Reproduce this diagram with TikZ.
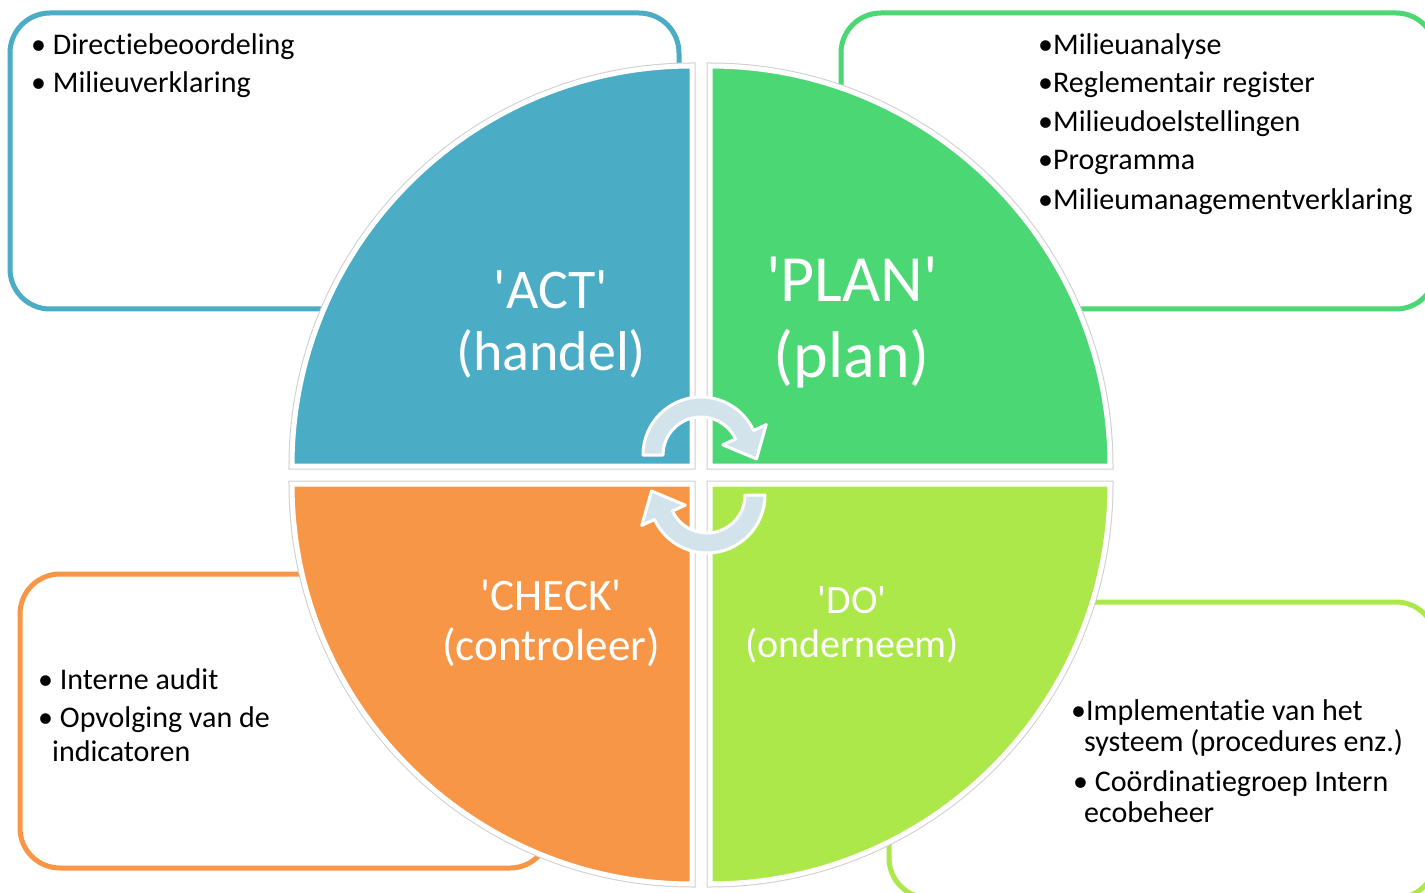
\documentclass[tikz,border=0pt]{standalone}
\usepackage{fontspec}
\setmainfont[Ligatures=NoCommon]{Carlito}
\definecolor{actc}{HTML}{4BACC6}
\definecolor{planc}{HTML}{4AD774}
\definecolor{checkc}{HTML}{F79646}
\definecolor{doc}{HTML}{ADE84B}
\definecolor{arrc}{HTML}{D3E3EC}
\definecolor{rimc}{HTML}{CFCFCF}
\newcommand{\sq}{\textquotesingle}
\begin{document}
\begin{tikzpicture}[x=1pt,y=1pt,
  box/.style={rounded corners=40pt, line width=5pt, fill=white},
  quad/.style={preaction={draw=rimc, line width=7pt}, draw=white, line width=5pt},
  arr/.style={fill=arrc, draw=white, line width=3pt, line join=round},
  item/.style={anchor=base west, inner sep=0pt, font=\fontsize{30}{36}\selectfont, text=black},
  lbl/.style={align=center, inner sep=0pt, text=white}]
\useasboundingbox (0,0) rectangle (1425,-893);
\clip (0,0) rectangle (1425,-893);
\fill[white] (0,0) rectangle (1425,-893);
% boxes
\draw[box, draw=actc] (10,-13) rectangle (679,-309);
\draw[box, draw=planc] (841,-13) rectangle (1436,-309);
\draw[box, draw=checkc] (20,-574) rectangle (550,-868);
\draw[box, draw=doc] (889,-602) rectangle (1436,-898);
% quadrants
\draw[quad, fill=actc] (692,-466) -- (292,-466) arc[start angle=180, end angle=90, radius=400] -- cycle;
\draw[quad, fill=planc] (710,-466) -- (710,-66) arc[start angle=90, end angle=0, radius=400] -- cycle;
\draw[quad, fill=checkc] (692,-484) -- (692,-884) arc[start angle=270, end angle=180, radius=400] -- cycle;
\draw[quad, fill=doc] (710,-484) -- (1110,-484) arc[start angle=0, end angle=-90, radius=400] -- cycle;
% cycle arrows
\begin{scope}[shift={(701,-455)}]
\draw[arr] (180:58) arc[start angle=180, end angle=25, radius=58] -- (25:72) -- (55.5,-4) -- (25:24) -- (25:38) arc[start angle=25, end angle=180, radius=38] -- cycle;
\end{scope}
\begin{scope}[shift={(707,-495)}, rotate=180]
\draw[arr] (180:58) arc[start angle=180, end angle=25, radius=58] -- (25:72) -- (55.5,-4) -- (25:24) -- (25:38) arc[start angle=25, end angle=180, radius=38] -- cycle;
\end{scope}
% quadrant labels
\node[lbl, font=\fontsize{56}{62}\selectfont] (act) at (551,-324) {\sq ACT\sq\\(handel)};
\node[lbl, font=\fontsize{66}{76}\selectfont] (plan) at (852,-323) {\sq PLAN\sq\\(plan)};
\node[lbl, font=\fontsize{45}{50}\selectfont] (check) at (551,-623) {\sq CHECK\sq\\(controleer)};
\node[lbl, font=\fontsize{40}{44}\selectfont] (do) at (852,-625) {\sq DO\sq\\(onderneem)};
% lists
\node[item] (a1) at (31,-55) {• Directiebeoordeling};
\node[item] (a2) at (31,-93) {• Milieuverklaring};
\node[item] (p1) at (1038,-55) {•Milieuanalyse};
\node[item] (p2) at (1038,-93) {•Reglementair register};
\node[item] (p3) at (1038,-132) {•Milieudoelstellingen};
\node[item] (p4) at (1038,-170) {•Programma};
\node[item] (p5) at (1038,-210) {•Milieumanagementverklaring};
\node[item] (c1) at (38,-689) {• Interne audit};
\node[item] (c2) at (38,-727) {• Opvolging van de};
\node[item] (c3) at (52,-761) {indicatoren};
\node[item] (d1) at (1071,-720) {•Implementatie van het};
\node[item] (d2) at (1084,-751) {systeem (procedures enz.)};
\node[item] (d3) at (1073,-791) {• Coördinatiegroep Intern};
\node[item] (d4) at (1084,-822) {ecobeheer};
\end{tikzpicture}
\end{document}
